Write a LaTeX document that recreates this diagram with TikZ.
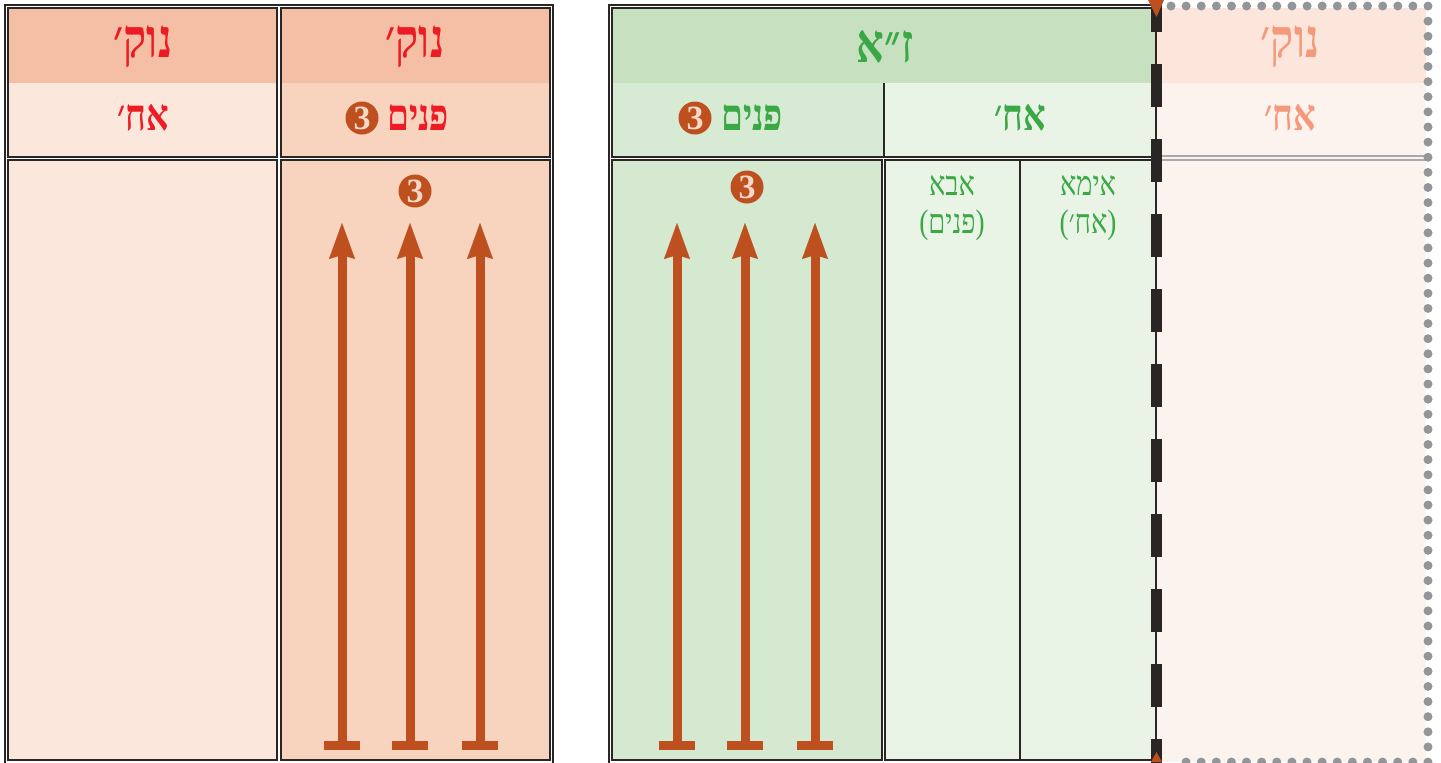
\documentclass[tikz,border=0pt]{standalone}
\usepackage{fontspec}
\usetikzlibrary{arrows.meta}
\TeXXeTstate=1
\newfontfamily\heb[Script=Hebrew,FakeStretch=0.8]{Liberation Serif}
\newfontfamily\numfont{Liberation Serif}
\definecolor{ink}{HTML}{2B2626}
\definecolor{salmon}{HTML}{F5BFA5}
\definecolor{peachA}{HTML}{FCE7DC}
\definecolor{peachB}{HTML}{F8D3BE}
\definecolor{greenH}{HTML}{C6E0C0}
\definecolor{greenA}{HTML}{D7EAD3}
\definecolor{greenB}{HTML}{D5E8D0}
\definecolor{greenC}{HTML}{E9F4E6}
\definecolor{ghostH}{HTML}{FCE6DB}
\definecolor{ghostB}{HTML}{FCF3EE}
\definecolor{nred}{HTML}{ED1C24}
\definecolor{ngreen}{HTML}{39A845}
\definecolor{nfade}{HTML}{F4997B}
\definecolor{rust}{HTML}{BE4F1F}
\definecolor{numtxt}{HTML}{F8D8C6}
\definecolor{dotgray}{HTML}{939598}
\definecolor{linegray}{HTML}{A7A9AC}
\tikzset{
  frame/.style={draw=ink, line width=0.8pt},
  cell/.style={draw=ink, line width=0.6pt},
  hh/.style={font=\heb\bfseries\fontsize{27}{30}\selectfont, inner sep=0pt},
  hs/.style={font=\heb\bfseries\fontsize{22}{26}\selectfont, inner sep=0pt},
  ht/.style={font=\heb\fontsize{17}{19}\selectfont, inner sep=0pt, align=center},
  num/.style={circle, fill=rust, text=numtxt, inner sep=0pt, minimum size=16.5pt,
    font=\numfont\bfseries\fontsize{17}{17}\selectfont},
  uparrow/.style={draw=rust, line width=4.5pt,
    {Bar[width=18pt]}-{Stealth[length=18pt,width=13pt,inset=2pt,line width=0.1pt]}},
  dots/.style={draw=dotgray, line width=4.5pt, line cap=round, dash pattern=on 0pt off 7.56pt},
  cut/.style={draw=ink, line width=5.5pt, dash pattern=on 21.5pt off 16pt}
}
\begin{document}
\begin{tikzpicture}[x=0.5pt,y=-0.5pt]
\useasboundingbox (0,0) rectangle (1441,762);
\fill[white] (0,0) rectangle (1441,762);

% ===== left structure =====
\draw[frame] (5,5) rectangle (553,764);
\fill[salmon] (8,8) rectangle (277,83);
\fill[peachA] (8,83) rectangle (277,157);
\fill[salmon] (281,8) rectangle (550,83);
\fill[peachB] (281,83) rectangle (550,157);
\fill[peachA] (8,160) rectangle (277,760);
\fill[peachB] (281,160) rectangle (550,760);
\draw[cell] (8,8) rectangle (277,157);
\draw[cell] (281,8) rectangle (550,157);
\draw[cell] (8,160) rectangle (277,760);
\draw[cell] (281,160) rectangle (550,760);

\node[hh, text=nred] (lnh) at (143,47) {\beginR נוק׳\endR};
\node[hs, text=nred] (lns) at (143,118) {\beginR אח׳\endR};
\node[hh, text=nred] (rnh) at (415,47) {\beginR נוק׳\endR};
\node[hs, text=nred] (rns) at (418,118) {\beginR פנים\endR};
\node[num] (rnn) at (362,118) {3};
\node[num] (rbn) at (415,191) {3};

\foreach \x/\n in {342/a,410/b,480/c}{
  \coordinate (lb\n) at (\x,750);
  \coordinate (lt\n) at (\x,223);
  \draw[uparrow] (lb\n) -- (lt\n);
}

% ===== right structure =====
\draw[frame] (609,5) rectangle (1160,764);
\fill[greenH] (612,8) rectangle (1156,83);
\fill[greenA] (612,83) rectangle (884,157);
\fill[greenC] (884,83) rectangle (1156,157);
\fill[greenB] (612,160) rectangle (882,760);
\fill[greenC] (885,160) rectangle (1156,760);
\draw[cell] (612,8) rectangle (1156,157);
\draw[cell] (884,83) -- (884,157);
\draw[cell] (612,160) rectangle (882,760);
\draw[cell] (885,160) rectangle (1156,760);
\draw[cell] (1020,160) -- (1020,760);

\node[hh, text=ngreen] (zah) at (885,47) {\beginR ז״א\endR};
\node[hs, text=ngreen] (zap) at (752,118) {\beginR פנים\endR};
\node[num] (zan) at (695,118) {3};
\node[hs, text=ngreen] (zaa) at (1020,118) {\beginR אח׳\endR};
\node[num] (zbn) at (747,187) {3};
\node[ht, text=ngreen] (abba) at (952,208) {\beginR אבא\endR\\\beginR(פנים)\endR};
\node[ht, text=ngreen] (ima) at (1088,208) {\beginR אימא\endR\\\beginR(אח׳)\endR};

\foreach \x/\n in {677/a,745/b,815/c}{
  \coordinate (rb\n) at (\x,750);
  \coordinate (rt\n) at (\x,223);
  \draw[uparrow] (rb\n) -- (rt\n);
}

% ===== ghost nukva =====
\fill[ghostH] (1157,8) rectangle (1426,83);
\fill[ghostB] (1157,83) rectangle (1426,762);
\draw[linegray, line width=0.6pt] (1160,156) -- (1426,156);
\draw[linegray, line width=0.6pt] (1160,160) -- (1426,160);
\node[hh, text=nfade] (gnh) at (1290,47) {\beginR נוק׳\endR};
\node[hs, text=nfade] (gns) at (1290,118) {\beginR אח׳\endR};
\draw[dots] (1171,6) -- (1428,6) -- (1428,762) -- (1171,762);

% ===== cut line =====
\coordinate (ct) at (1156.5,-11);
\coordinate (cb) at (1156.5,790);
\draw[cut] (ct) -- (cb);
\fill[rust] (1148,0) -- (1164,0) -- (1156.5,17) -- cycle;
\fill[rust] (1151,762) -- (1162,762) -- (1156.5,752) -- cycle;
\end{tikzpicture}
\end{document}
